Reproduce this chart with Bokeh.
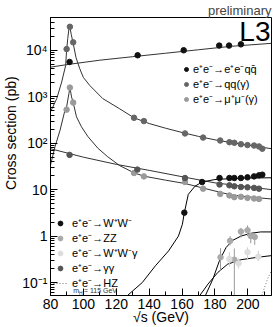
import math
from bokeh.plotting import figure
from bokeh.models import (Label, Legend, LegendItem, SingleIntervalTicker,
                          FixedTicker, CustomJSTickFormatter)
from bokeh.embed import file_html
from bokeh.resources import INLINE

# ---------------- data ----------------
# e+e- -> e+e- qq  (two-photon)
eeqq_curve_x = [80, 92, 110, 130, 150, 170, 190, 214.4]
eeqq_curve_y = [4340, 5020, 6110, 7270, 8630, 10250, 12170, 14100]
eeqq_x = [91.6, 133.0, 161.0, 182.6, 188.6, 195.8]
eeqq_y = [5600, 7800, 10000, 12600, 12600, 13400]

# e+e- -> qq(gamma)
qq_curve_x = [80, 83.8, 86.8, 89.2, 89.8, 90.5, 91.2, 91.8, 92.6, 93.8, 95.5, 97.8,
              100, 103.8, 111.8, 121.8, 130.8, 140, 150, 160, 170, 180, 190, 200, 214.4]
qq_curve_y = [473, 910, 2070, 4700, 10000, 18000, 29000, 32000, 22000, 14000, 7000, 4000,
              2600, 1760, 910, 557, 352, 265, 210, 170, 140, 118, 103, 91, 76]
qq_x = [89.8, 91.8, 93.8, 130.8, 136.8, 161.8, 172.8, 183.2, 188.8, 191.8, 195.8,
        199.8, 203.8, 206.8, 208.8]
qq_y = [10600, 32000, 14800, 352, 299, 162, 132, 114, 105, 102, 95, 91, 89, 85, 76]

# e+e- -> mu+mu-(gamma)
mm_curve_x = [80, 82.8, 85.8, 88.8, 89.8, 91.2, 91.8, 92.8, 93.8, 95.8, 98.8, 102.8,
              108.8, 114.8, 122, 130.8, 136.8, 150, 162, 172, 183, 190, 200, 214.4]
mm_curve_y = [34, 85, 190, 515, 600, 1170, 1570, 990, 748, 370, 226, 138,
              78, 51, 33, 23, 19.5, 16, 13.5, 11, 8.8, 7.7, 7.0, 6.3]
mm_x = [89.8, 91.8, 93.8, 130.8, 136.8, 161.8, 172.8, 183.2, 188.8, 191.8, 195.8,
        199.8, 203.8, 206.8]
mm_y = [526, 1570, 748, 22.8, 19.3, 14.6, 10.5, 8.1, 7.5, 6.9, 7.0, 6.65, 6.45, 6.3]

# e+e- -> gamma gamma
gg_curve_x = [80, 100, 120, 140, 160, 180, 200, 214.4]
gg_curve_y = [76, 50, 35, 26, 19, 14, 11.5, 10]
gg_x = [91.6, 132.8, 161.8, 182.8, 188.8, 191.8, 195.8, 199.8, 203.8, 206.8]
gg_y = [56, 27, 17.8, 12.9, 12.4, 11.8, 11.4, 11.2, 10.9, 10.5]

# e+e- -> W+W-
ww_curve_x = [126.8, 135.8, 143.8, 151.8, 157.8, 160.2, 161.4, 163.8, 167.8, 172.2,
              180, 190, 200, 214.4]
ww_curve_y = [0.0527, 0.10, 0.23, 0.48, 1.0, 1.8, 3.2, 7.9, 11.8, 14.6,
              16.5, 17.3, 17.8, 18.0]
ww_x = [161.4, 172.2, 182.8, 188.8, 191.8, 195.8, 199.8, 203.8, 206.8, 208.8]
ww_y = [3.2, 14.6, 17.8, 17.8, 17.8, 17.8, 18.4, 19.3, 20.3, 21.0]

# e+e- -> ZZ
zz_curve_x = [174.2, 178.8, 182.8, 186.8, 190.8, 195.8, 201.8, 207.8, 214.4]
zz_curve_y = [0.0527, 0.12, 0.30, 0.57, 0.81, 1.0, 1.15, 1.23, 1.23]
zz_x = [183.4, 189.2, 191.8, 195.8, 199.8, 201.8, 204.2]
zz_y = [0.35, 0.79, 0.31, 1.25, 1.34, 1.0, 0.96]
zz_lo = [0.18, 0.63, 0.05, 0.93, 1.0, 0.7, 0.65]
zz_hi = [0.55, 1.0, 0.54, 1.5, 1.7, 1.15, 1.15]

# e+e- -> W+W- gamma
wwg_curve_x = [170.8, 175.8, 181.8, 187.8, 195.8, 205.8, 214.4]
wwg_curve_y = [0.0527, 0.093, 0.166, 0.25, 0.31, 0.35, 0.38]
wwg_x = [188.8, 194.4, 199.8, 206.4]
wwg_y = [0.32, 0.26, 0.45, 0.36]
wwg_lo = [0.22, 0.20, 0.32, 0.29]
wwg_hi = [0.45, 0.33, 0.57, 0.48]

# e+e- -> HZ (mH = 115 GeV)
hz_curve_x = [208.5, 210, 212, 214.4]
hz_curve_y = [0.053, 0.075, 0.12, 0.18]

# axis ticks
x_range = (80, 214.4)
y_range = (0.0527, 50700)
y_ticks = [0.1, 1, 10, 100, 1000, 10000]
y_tick_labels = ["10⁻¹", "1", "10", "10²", "10³", "10⁴"]
y_minor = [m * 10.0 ** e for e in range(-2, 5) for m in range(2, 10)]

FONT = "Liberation Sans"

p = figure(width=273, height=327, x_range=x_range, y_range=y_range,
           y_axis_type="log", output_backend="svg", toolbar_location=None,
           min_border_left=47, min_border_right=2, min_border_top=15,
           min_border_bottom=32, title="preliminary", title_location="above")
p.title.align = "right"
p.title.text_font = FONT
p.title.text_font_size = "13px"
p.title.text_font_style = "normal"
p.title.standoff = 0
p.title.offset = 0

p.grid.visible = False
p.outline_line_color = "black"
p.outline_line_width = 1
p.background_fill_color = "white"
p.border_fill_color = "white"

p.xaxis.ticker = SingleIntervalTicker(interval=20, num_minor_ticks=2)
p.yaxis.ticker = FixedTicker(ticks=y_ticks, minor_ticks=y_minor)
p.yaxis.formatter = CustomJSTickFormatter(
    args=dict(yt=y_ticks, yl=y_tick_labels),
    code="""
for (let i = 0; i < yt.length; i++) {
  if (Math.abs(Math.log10(tick) - Math.log10(yt[i])) < 1e-6) return yl[i];
}
return "";
""")
for ax in (p.xaxis[0], p.yaxis[0]):
    ax.major_tick_in = 7
    ax.major_tick_out = 0
    ax.minor_tick_in = 4
    ax.minor_tick_out = 0
    ax.axis_line_color = "black"
    ax.major_tick_line_color = "black"
    ax.minor_tick_line_color = "black"
    ax.major_label_text_font = FONT
    ax.major_label_text_font_size = "14px"
    ax.major_label_text_color = "black"
    ax.axis_label_text_font = FONT
    ax.axis_label_text_font_size = "14px"
    ax.axis_label_text_font_style = "normal"
    ax.axis_label_text_color = "black"
p.xaxis.major_label_standoff = 3
p.yaxis.major_label_standoff = 3
p.xaxis.axis_label = "√s (GeV)"
# leading no-break spaces lift the rotated label towards the top, as in the original
p.yaxis.axis_label = "\u00a0" * 12 + "Cross section (pb)"
p.xaxis.axis_label_standoff = -3
p.yaxis.axis_label_standoff = 0

LC = "#333333"
# curves
r_eeqq_l = p.line(eeqq_curve_x, eeqq_curve_y, line_color=LC, line_width=1)
r_qq_l = p.line(qq_curve_x, qq_curve_y, line_color=LC, line_width=1)
r_mm_l = p.line(mm_curve_x, mm_curve_y, line_color=LC, line_width=1)
r_gg_l = p.line(gg_curve_x, gg_curve_y, line_color=LC, line_width=1)
r_ww_l = p.line(ww_curve_x, ww_curve_y, line_color="black", line_width=1)
r_zz_l = p.line(zz_curve_x, zz_curve_y, line_color="black", line_width=1)
r_wwg_l = p.line(wwg_curve_x, wwg_curve_y, line_color="black", line_width=1)
r_hz = p.line(hz_curve_x, hz_curve_y, line_color="#777777", line_width=1, line_dash="1 2")

# error bars
p.segment(x0=zz_x, y0=zz_lo, x1=zz_x, y1=zz_hi, line_color="#999999", line_width=1)
p.segment(x0=wwg_x, y0=wwg_lo, x1=wwg_x, y1=wwg_hi, line_color="#cccccc", line_width=1)

# points
S = 5.5
r_eeqq = p.scatter(eeqq_x, eeqq_y, size=S, color="#111111")
r_qq = p.scatter(qq_x, qq_y, size=S, color="#666666")
r_mm = p.scatter(mm_x, mm_y, size=S, color="#9a9a9a")
r_gg = p.scatter(gg_x, gg_y, size=S, color="#555555")
r_ww = p.scatter(ww_x, ww_y, size=S, color="#111111")
r_zz = p.scatter(zz_x, zz_y, size=S, color="#aaaaaa")
r_wwg = p.scatter(wwg_x, wwg_y, size=S, color="#dddddd")

def mk_legend(items, loc, gw):
    lg = Legend(items=items, location=loc, orientation="vertical",
                border_line_color=None, background_fill_alpha=0,
                label_text_font=FONT, label_text_font_size="11px",
                label_text_color="black", glyph_width=gw, glyph_height=12,
                label_height=14, label_standoff=2, spacing=0, padding=0,
                margin=0)
    return lg

leg1 = mk_legend([
    LegendItem(label="e⁺e⁻→e⁺e⁻qq̄", renderers=[r_eeqq]),
    LegendItem(label="e⁺e⁻→qq(γ)", renderers=[r_qq]),
    LegendItem(label="e⁺e⁻→μ⁺μ⁻(γ)", renderers=[r_mm]),
], (131, 189), 10)
p.add_layout(leg1)

leg2 = mk_legend([
    LegendItem(label="e⁺e⁻→W⁺W⁻", renderers=[r_ww]),
    LegendItem(label="e⁺e⁻→ZZ", renderers=[r_zz]),
    LegendItem(label="e⁺e⁻→W⁺W⁻γ", renderers=[r_wwg]),
    LegendItem(label="e⁺e⁻→γγ", renderers=[r_gg]),
    LegendItem(label="e⁺e⁻→HZ", renderers=[r_hz]),
], (3, 5), 14)
leg2.label_standoff = 5
p.add_layout(leg2)

p.add_layout(Label(x=93.8, y=0.0674, text="m", text_font=FONT, text_font_size="7px",
                   text_baseline="middle", text_color="#333333"))
p.add_layout(Label(x=93.8 + 3.6, y=0.06, text="H", text_font=FONT, text_font_size="5px",
                   text_baseline="middle", text_color="#333333"))
p.add_layout(Label(x=93.8 + 6.5, y=0.0674, text="= 115 GeV", text_font=FONT,
                   text_font_size="7px", text_baseline="middle", text_color="#333333"))

p.add_layout(Label(x=213.8, y=25500, text="L3", text_font=FONT, text_font_size="28px",
                   text_align="right", text_baseline="alphabetic", text_color="black"))

open("out.html", "w").write(file_html(p, INLINE))
